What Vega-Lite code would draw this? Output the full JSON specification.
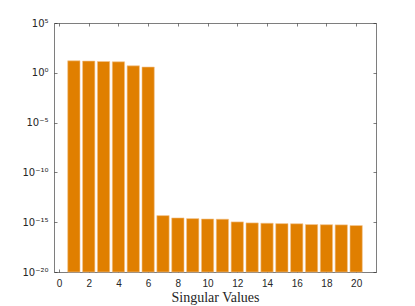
{
  "$schema": "https://vega.github.io/schema/vega-lite/v6.json",
  "autosize": {"type": "none"},
  "padding": {"left": 54, "top": 23, "right": 39, "bottom": 34},
  "width": 322,
  "height": 249,
  "background": "white",
  "config": {"view": {"stroke": null}},
  "data": {"values": [
    {"k": 1, "sv": 16},
    {"k": 2, "sv": 15},
    {"k": 3, "sv": 13.6},
    {"k": 4, "sv": 12.7},
    {"k": 5, "sv": 5.0},
    {"k": 6, "sv": 3.8},
    {"k": 7, "sv": 4.6e-15},
    {"k": 8, "sv": 2.7e-15},
    {"k": 9, "sv": 2.3e-15},
    {"k": 10, "sv": 2.1e-15},
    {"k": 11, "sv": 2.0e-15},
    {"k": 12, "sv": 1.07e-15},
    {"k": 13, "sv": 8.5e-16},
    {"k": 14, "sv": 7.9e-16},
    {"k": 15, "sv": 7.2e-16},
    {"k": 16, "sv": 7.0e-16},
    {"k": 17, "sv": 5.8e-16},
    {"k": 18, "sv": 5.6e-16},
    {"k": 19, "sv": 5.4e-16},
    {"k": 20, "sv": 4.6e-16}
  ]},
  "layer": [
    {
      "mark": {"type": "bar", "width": 12.3, "color": "#E07F00", "stroke": "#F3C48E", "strokeWidth": 0.6},
      "encoding": {
        "x": {"field": "k", "type": "quantitative",
          "scale": {"domain": [0, 21], "nice": false, "zero": false},
          "axis": {"orient": "bottom", "values": [0,2,4,6,8,10,12,14,16,18,20], "grid": false,
            "title": "Singular Values", "titleFont": "Liberation Serif", "titleFontSize": 14, "titleFontWeight": "normal", "titleColor": "#262626", "titlePadding": 2,
            "labelFont": "Liberation Sans", "labelFontSize": 10, "labelColor": "#262626", "labelPadding": 9,
            "domainColor": "#262626", "domainWidth": 0.6, "tickColor": "#262626", "tickSize": -3, "tickWidth": 0.6, "labelFlush": false}},
        "y": {"field": "sv", "type": "quantitative",
          "scale": {"type": "log", "domain": [1e-20, 1e5], "nice": false},
          "axis": {"orient": "left", "values": [1e-20, 1e-15, 1e-10, 1e-5, 1, 1e5], "grid": false, "title": null,
            "labelExpr": "datum.value > 1e4 ? '10⁵' : datum.value > 0.5 ? '10⁰' : datum.value > 1e-6 ? '10⁻⁵' : datum.value > 1e-11 ? '10⁻¹⁰' : datum.value > 1e-16 ? '10⁻¹⁵' : '10⁻²⁰'",
            "labelFont": "DejaVu Sans", "labelFontSize": 10, "labelColor": "#262626", "labelPadding": 9, "labelFlush": false,
            "domainColor": "#262626", "domainWidth": 0.6, "tickColor": "#262626", "tickSize": -3, "tickWidth": 0.6}},
        "y2": {"datum": 1e-20}
      }
    },
    {
      "mark": {"type": "point", "opacity": 0},
      "encoding": {
        "x": {"field": "k", "type": "quantitative",
          "axis": {"orient": "top", "values": [0,2,4,6,8,10,12,14,16,18,20], "grid": false, "labels": false, "title": null,
            "domainColor": "#262626", "domainWidth": 0.6, "tickColor": "#262626", "tickSize": -3, "tickWidth": 0.6}},
        "y": {"field": "sv", "type": "quantitative",
          "axis": {"orient": "right", "values": [1e-20, 1e-15, 1e-10, 1e-5, 1, 1e5], "grid": false, "labels": false, "title": null,
            "domainColor": "#262626", "domainWidth": 0.6, "tickColor": "#262626", "tickSize": -3, "tickWidth": 0.6}}
      }
    }
  ],
  "resolve": {"axis": {"x": "independent", "y": "independent"}}
}
